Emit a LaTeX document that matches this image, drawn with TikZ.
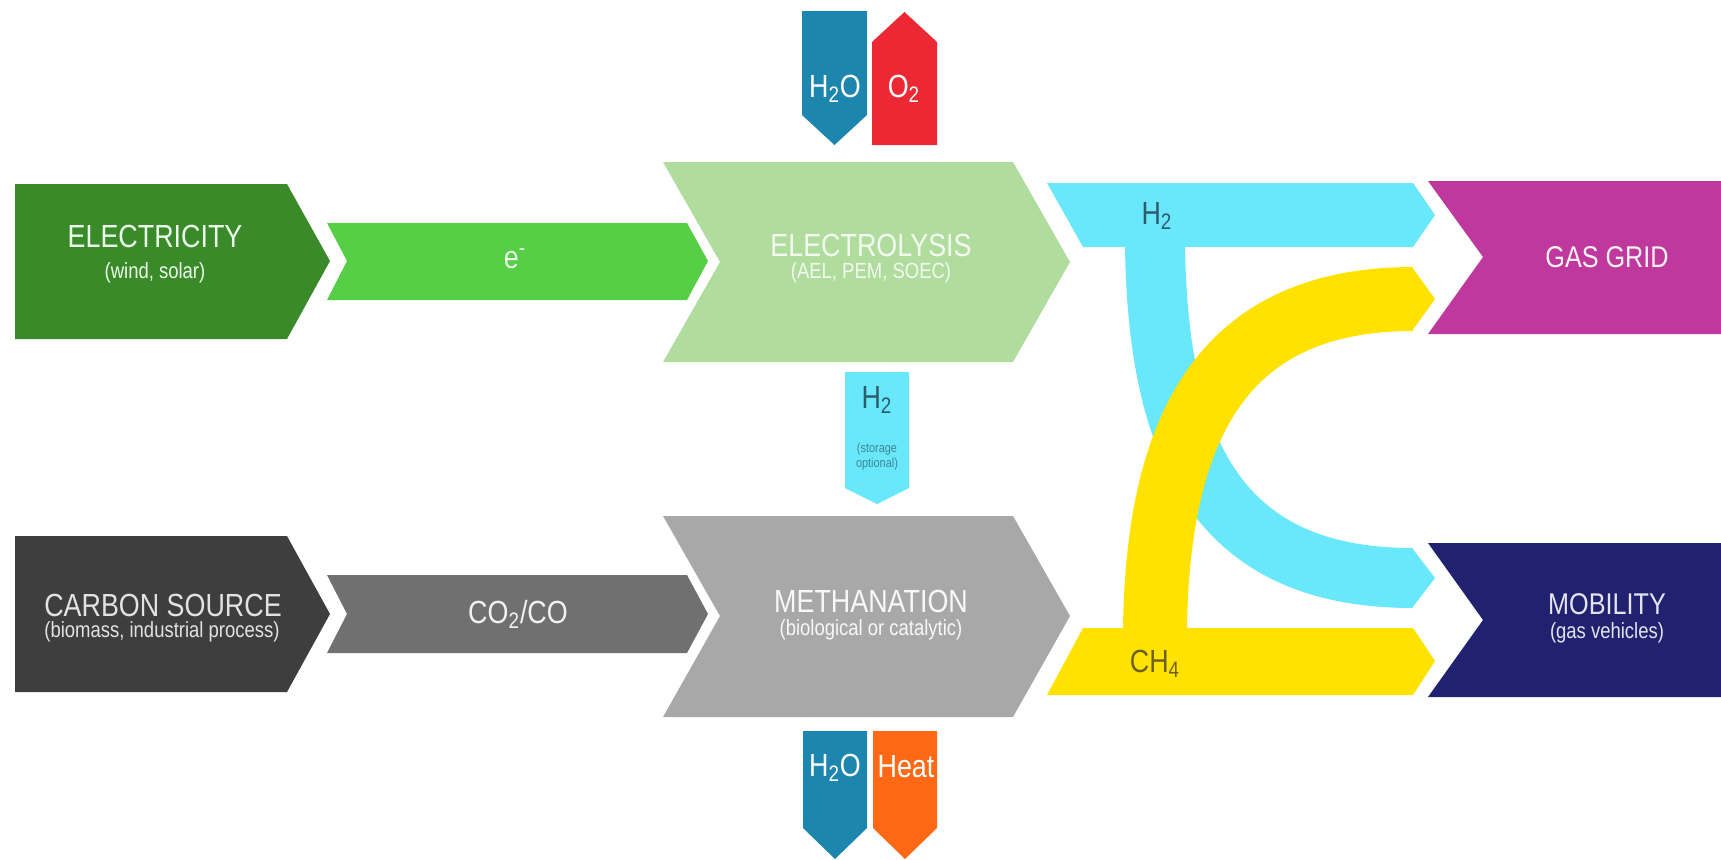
\documentclass[tikz,border=0pt]{standalone}
\usepackage{fontspec}
\setmainfont{Liberation Sans}[FakeStretch=0.84]

\definecolor{elecgreen}{RGB}{58,138,42}
\definecolor{egreen}{RGB}{86,206,70}
\definecolor{lysisgreen}{RGB}{176,220,158}
\definecolor{waterblue}{RGB}{28,134,174}
\definecolor{oxred}{RGB}{236,40,52}
\definecolor{hcyan}{RGB}{104,232,250}
\definecolor{carbgray}{RGB}{62,62,62}
\definecolor{cogray}{RGB}{112,112,112}
\definecolor{methgray}{RGB}{168,168,168}
\definecolor{heatorange}{RGB}{255,104,20}
\definecolor{chyellow}{RGB}{255,226,0}
\definecolor{gridpink}{RGB}{190,56,158}
\definecolor{mobnavy}{RGB}{32,34,112}
\definecolor{htext}{RGB}{44,92,108}
\definecolor{chtext}{RGB}{110,96,32}

\begin{document}
\begin{tikzpicture}[x=0.5pt, y=-0.5pt,
	head/.style={font=\fontsize{16}{18}\selectfont, text=white!92!green, inner sep=0pt},
	sub/.style={font=\fontsize{11}{13}\selectfont, text=white!92!green, inner sep=0pt},
	tiny/.style={font=\fontsize{6.5}{7.5}\selectfont, inner sep=0pt, align=center}]
	\useasboundingbox (0,0) rectangle (1721,859);
	% upper row
	\fill[elecgreen] (15,184) -- (287,184) -- (330,261) -- (287,339) -- (15,339) -- cycle;
	\fill[egreen] (327,223) -- (687,223) -- (708,261) -- (687,300) -- (327,300) -- (347,261) -- cycle;
	\fill[lysisgreen] (663,162) -- (1013,162) -- (1070,262) -- (1013,362) -- (663,362) -- (720,262) -- cycle;
	\fill[waterblue] (802,11) -- (867,11) -- (867,115) -- (834.5,145) -- (802,115) -- cycle;
	\fill[oxred] (872,145) -- (872,42) -- (904.5,12) -- (937,42) -- (937,145) -- cycle;
	\fill[hcyan] (845,372) -- (909,372) -- (909,488) -- (877,504) -- (845,488) -- cycle;
	% lower row
	\fill[carbgray] (15,536) -- (287,536) -- (330,614) -- (287,692) -- (15,692) -- cycle;
	\fill[cogray] (327,575) -- (687,575) -- (708,614) -- (687,653) -- (327,653) -- (347,614) -- cycle;
	\fill[methgray] (663,516) -- (1013,516) -- (1070,616) -- (1013,717) -- (663,717) -- (720,616) -- cycle;
	\fill[waterblue] (803,731) -- (867,731) -- (867,828) -- (835,859) -- (803,828) -- cycle;
	\fill[heatorange] (873,731) -- (937,731) -- (937,828) -- (905,859) -- (873,828) -- cycle;
	% hydrogen
	\fill[hcyan] (1047,183) -- (1413,183) -- (1435,215) -- (1413,247) -- (1083,247) -- cycle;
	\draw[hcyan, line width=30pt] (1155,236) -- (1155,246) .. controls (1158,460) and (1225,578) .. (1413,578);
	\fill[hcyan] (1412,548) -- (1435,578) -- (1412,608) -- cycle;
	% methane
	\fill[chyellow] (1083,628) -- (1413,628) -- (1435,661) -- (1413,695) -- (1047,695) -- cycle;
	\draw[chyellow, line width=32pt] (1155,640) -- (1155,628) .. controls (1158,430) and (1220,299) .. (1413,299);
	\fill[chyellow] (1412,267) -- (1435,299) -- (1412,331) -- cycle;
	% uses
	\fill[gridpink] (1428,181) -- (1721,181) -- (1721,334) -- (1428,334) -- (1483,257) -- cycle;
	\fill[mobnavy] (1428,543) -- (1721,543) -- (1721,697) -- (1428,697) -- (1483,620) -- cycle;

	\node[head] (elec) at (155,236) {ELECTRICITY};
	\node[sub] (elecsub) at (155,273) {(wind, solar)};
	\node[head] (eflow) at (515,259) {e\textsuperscript{-}};
	\node[head, text=white!85!lysisgreen] (lysis) at (871,245) {ELECTROLYSIS};
	\node[sub, text=white!85!lysisgreen] (lysissub) at (871,273) {(AEL, PEM, SOEC)};
	\node[head, text=white] (wtop) at (835,89) {H\textsubscript{2}O};
	\node[head, text=white] (oxy) at (904,89) {O\textsubscript{2}};
	\node[head, text=htext] (hstore) at (877,400) {H\textsubscript{2}};
	\node[tiny, text=htext!70!hcyan] (hstoresub) at (877,457) {(storage\\optional)};
	\node[head, text=white!85!carbgray] (carb) at (163,605) {CARBON SOURCE};
	\node[sub, text=white!85!carbgray] (carbsub) at (162,632) {(biomass, industrial process)};
	\node[head, text=white!90!cogray] (coflow) at (518,614) {CO\textsubscript{2}/CO};
	\node[head, text=white!92!methgray] (meth) at (871,601) {METHANATION};
	\node[sub, text=white!92!methgray] (methsub) at (871,630) {(biological or catalytic)};
	\node[head, text=white] (wbot) at (835,768) {H\textsubscript{2}O};
	\node[head, text=white] (heat) at (906,767) {Heat};
	\node[head, text=htext] (hband) at (1157,216) {H\textsubscript{2}};
	\node[head, text=chtext] (chband) at (1155,664) {CH\textsubscript{4}};
	\node[head, font=\fontsize{15}{17}\selectfont, text=white!80!pink] (grid) at (1607,257) {GAS GRID};
	\node[head, font=\fontsize{15}{17}\selectfont, text=white!88!mobnavy] (mob) at (1607,604) {MOBILITY};
	\node[sub, text=white!88!mobnavy] (mobsub) at (1607,633) {(gas vehicles)};
\end{tikzpicture}
\end{document}
